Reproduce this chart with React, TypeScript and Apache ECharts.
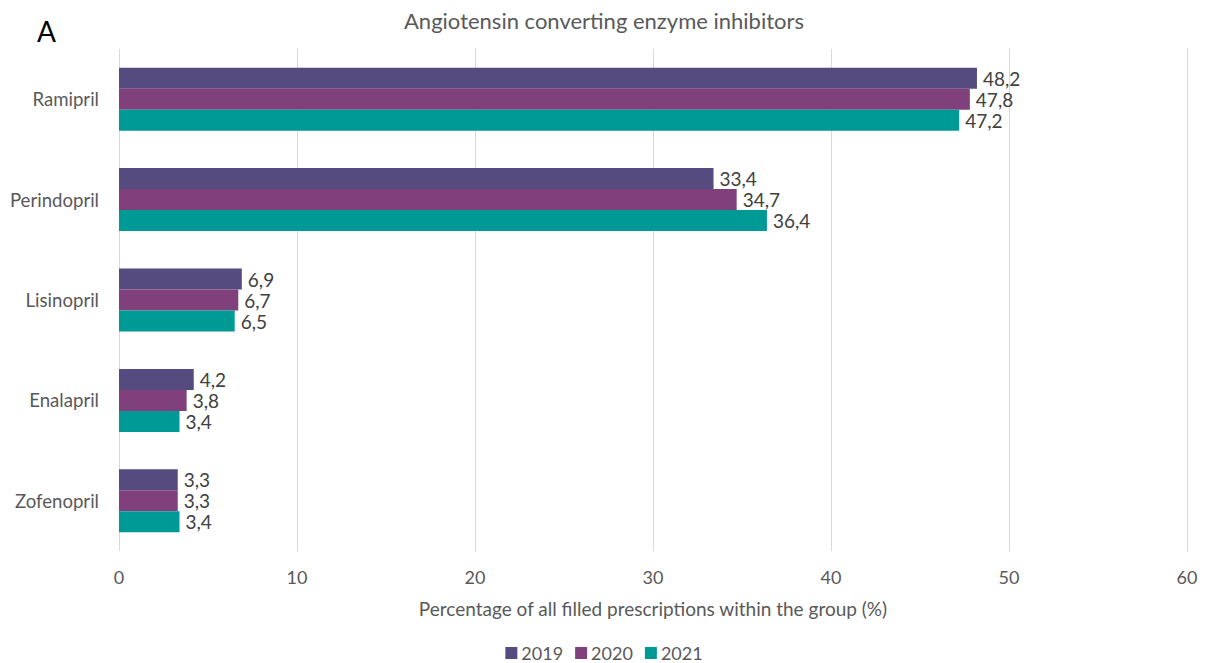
import React, { useEffect, useRef } from "react";
import * as echarts from "echarts";

const categories = ["Ramipril", "Perindopril", "Lisinopril", "Enalapril", "Zofenopril"];
const years = ["2019", "2020", "2021"];
const values2019 = [48.2, 33.4, 6.9, 4.2, 3.3];
const values2020 = [47.8, 34.7, 6.7, 3.8, 3.3];
const values2021 = [47.2, 36.4, 6.5, 3.4, 3.4];
const colors = ["#554B7F", "#80407C", "#009A96"];

const FONT = "Lato, 'Open Sans', sans-serif";
const TEXT = "#595959";

export default function App() {
  const ref = useRef<HTMLDivElement>(null);
  useEffect(() => {
    if (!ref.current) return;
    const chart = echarts.init(ref.current, undefined, { renderer: "svg" });
    const seriesData = [values2019, values2020, values2021];
    chart.setOption({
      animation: false,
      textStyle: { fontFamily: FONT },
      title: {
        text: "Angiotensin converting enzyme inhibitors",
        left: "center",
        top: 4,
        textStyle: { fontFamily: FONT, fontSize: 22, fontWeight: "normal", color: TEXT },
      },
      graphic: [
        {
          type: "text",
          left: 37,
          top: 17,
          style: { text: "A", fontFamily: FONT, fontSize: 28, fill: "#000" },
        },
      ],
      legend: {
        top: 639,
        left: "center",
        itemWidth: 12,
        itemHeight: 12,
        itemGap: 12,
        icon: "rect",
        textStyle: { fontFamily: FONT, fontSize: 18, color: TEXT, padding: [0, 0, 0, -1] },
        data: years,
      },
      grid: { left: 119, right: 21, top: 49, bottom: 112, containLabel: false },
      xAxis: {
        type: "value",
        min: 0,
        max: 60,
        interval: 10,
        name: "Percentage of all filled prescriptions within the group (%)",
        nameLocation: "middle",
        nameGap: 48,
        nameTextStyle: { fontFamily: FONT, fontSize: 19, color: TEXT },
        axisLabel: { fontFamily: FONT, fontSize: 18, color: TEXT, margin: 17 },
        axisLine: { show: false },
        axisTick: { show: false },
        splitLine: { show: true, lineStyle: { color: "#D9D9D9", width: 1 } },
      },
      yAxis: {
        type: "category",
        data: categories,
        inverse: true,
        axisLabel: { fontFamily: FONT, fontSize: 18.6, color: TEXT, margin: 20 },
        axisLine: { show: false },
        axisTick: { show: false },
      },
      series: years.map((y, i) => ({
        name: y,
        type: "bar",
        data: seriesData[i],
        barWidth: 21,
        barGap: "0%",
        barCategoryGap: "37%",
        itemStyle: { color: colors[i] },
        label: {
          show: true,
          position: "right",
          distance: 6,
          fontFamily: FONT,
          fontSize: 19,
          color: "#404040",
          formatter: (p: any) => String(p.value).replace(".", ","),
        },
      })),
    });
    return () => chart.dispose();
  }, []);
  return (
    <div
      ref={ref}
      style={{ position: "absolute", left: 0, top: 0, width: 1208, height: 663, background: "#fff" }}
    />
  );
}
